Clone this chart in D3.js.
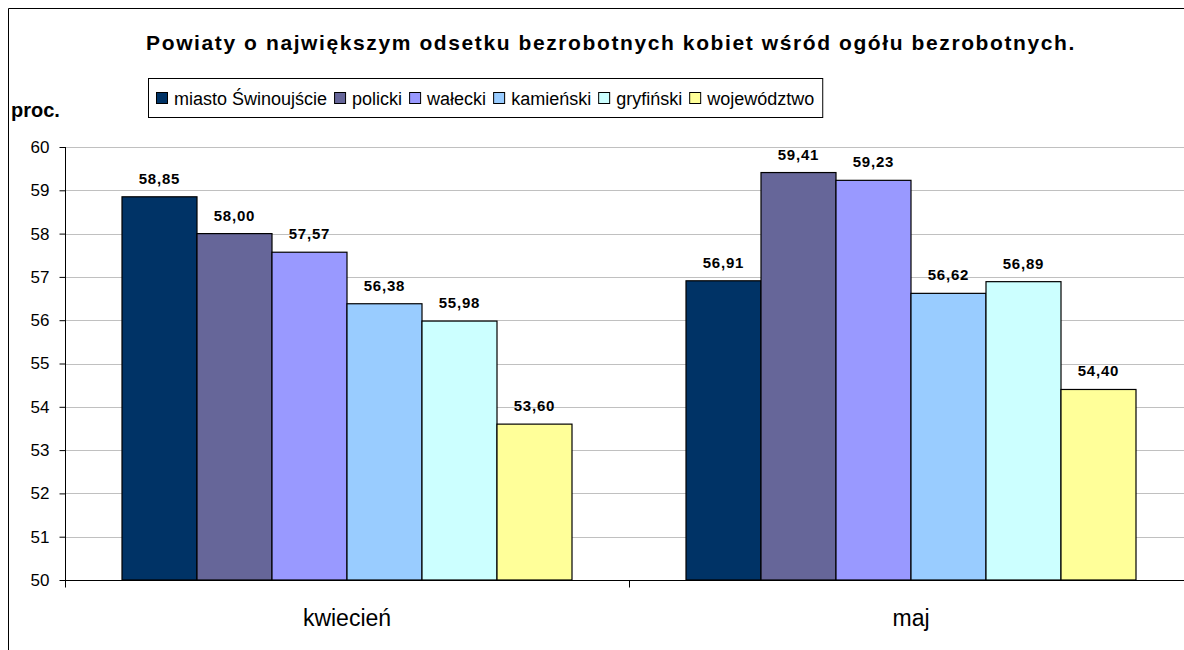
<!DOCTYPE html>
<meta charset="utf-8">
<style>
body { margin: 0; background: #fff; }
text { font-family: "Liberation Sans", Arial, sans-serif; fill: #000; }
.grid line { stroke: #c0c0c0; }
.axis path, .axis line { stroke: #000; }
</style>
<svg width="1184" height="650"></svg>
<script src="https://d3js.org/d3.v7.min.js"></script>
<script>

var months = ["kwiecień", "maj"];
var series = ["miasto Świnoujście", "policki", "wałecki", "kamieński", "gryfiński", "województwo"];
var colors = ["#003366", "#666699", "#9999FF", "#99CCFF", "#CCFFFF", "#FFFF99"];
var kwiecien = [58.85, 58.00, 57.57, 56.38, 55.98, 53.60];
var maj = [56.91, 59.41, 59.23, 56.62, 56.89, 54.40];
var yTicks = [50, 51, 52, 53, 54, 55, 56, 57, 58, 59, 60];

var values = [kwiecien, maj];

var svg = d3.select("svg");

// outer chart frame (runs off the right and bottom edges)
svg.append("path")
    .attr("d", "M8.5,660V8.5H1200")
    .attr("fill", "none")
    .attr("stroke", "#000")
    .attr("stroke-width", 1);

var x0 = d3.scaleBand().domain(months).range([65, 1193]);
var x1 = d3.scaleBand().domain(series).range([57, 564 - 57]);
var y = d3.scaleLinear().domain([50, 60]).range([580, 147]);

// gridlines
svg.append("g")
    .attr("class", "grid")
  .selectAll("line")
  .data(yTicks.slice(1))
  .enter().append("line")
    .attr("x1", 65)
    .attr("x2", 1193)
    .attr("y1", function(d) { return Math.round(y(d)) + 0.5; })
    .attr("y2", function(d) { return Math.round(y(d)) + 0.5; });

// bars
var groups = svg.append("g")
  .selectAll("g")
  .data(months)
  .enter().append("g")
    .attr("transform", function(d) { return "translate(" + x0(d) + ",0)"; });

groups.selectAll("rect")
  .data(function(d, i) { return values[i].map(function(v, j) { return {s: series[j], v: v, c: colors[j]}; }); })
  .enter().append("rect")
    .attr("x", function(d) { return x1(d.s); })
    .attr("width", x1.bandwidth())
    .attr("y", function(d) { return y(d.v); })
    .attr("height", function(d) { return y(50) - y(d.v); })
    .attr("fill", function(d) { return d.c; })
    .attr("stroke", "#000")
    .attr("stroke-width", 1.2);

groups.selectAll("text")
  .data(function(d, i) { return values[i].map(function(v, j) { return {s: series[j], v: v}; }); })
  .enter().append("text")
    .attr("x", function(d) { return x1(d.s) + x1.bandwidth() / 2; })
    .attr("y", function(d) { return y(d.v) - 13; })
    .attr("text-anchor", "middle")
    .attr("font-size", 15)
    .attr("font-weight", "bold")
    .attr("letter-spacing", 0.8)
    .text(function(d) { return d.v.toFixed(2).replace(".", ","); });

// y axis
var yAxis = svg.append("g")
    .attr("class", "axis")
    .attr("transform", "translate(65.5,0)")
    .call(d3.axisLeft(y).tickValues(yTicks).tickSize(6).tickPadding(10).tickFormat(d3.format("d")));
yAxis.selectAll("text").attr("font-size", 17).attr("font-family", "Liberation Sans, Arial, sans-serif");
yAxis.select(".domain").attr("d", "M0,147V580");

// x axis
var xAxis = svg.append("g")
    .attr("class", "axis")
    .attr("transform", "translate(0,580.5)");
xAxis.append("line").attr("x1", 65).attr("x2", 1193).attr("stroke", "#000");
xAxis.selectAll(".tk")
  .data([65, 629])
  .enter().append("line")
    .attr("x1", function(d) { return d + 0.5; })
    .attr("x2", function(d) { return d + 0.5; })
    .attr("y1", 0).attr("y2", 7)
    .attr("stroke", "#000");
xAxis.selectAll("text")
  .data(months)
  .enter().append("text")
    .attr("x", function(d) { return x0(d) + 282; })
    .attr("y", 45)
    .attr("text-anchor", "middle")
    .attr("font-size", 23)
    .text(function(d) { return d; });

// title
svg.append("text")
    .attr("x", 611)
    .attr("y", 50)
    .attr("text-anchor", "middle")
    .attr("font-size", 21)
    .attr("font-weight", "bold")
    .attr("letter-spacing", 1.6)
    .text("Powiaty o największym odsetku bezrobotnych kobiet wśród ogółu bezrobotnych.");

// unit label
svg.append("text")
    .attr("x", 11)
    .attr("y", 117)
    .attr("font-size", 20)
    .attr("font-weight", "bold")
    .text("proc.");

// legend
var legend = svg.append("g");
var legendBox = legend.append("rect")
    .attr("x", 148.5).attr("y", 78.5)
    .attr("height", 39)
    .attr("fill", "#fff")
    .attr("stroke", "#000");
var lx = 156;
series.forEach(function(s, i) {
  legend.append("rect")
      .attr("x", lx + 0.5).attr("y", 92.5)
      .attr("width", 11).attr("height", 11)
      .attr("fill", colors[i])
      .attr("stroke", "#000");
  var t = legend.append("text")
      .attr("x", lx + 18)
      .attr("y", 105)
      .attr("font-size", 18)
      .text(s);
  lx += 18 + t.node().getComputedTextLength() + 7;
});
legendBox.attr("width", lx - 148 + 1);

</script>
